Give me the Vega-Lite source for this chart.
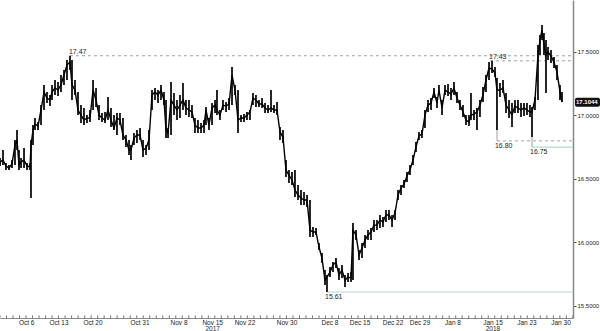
{
"$schema": "https://vega.github.io/schema/vega-lite/v6.json",
"width": 573,
"height": 318,
"autosize": {"type": "none"},
"padding": {"left": 0, "top": 0, "right": 27, "bottom": 13},
"background": "white",
"config": {"view": {"stroke": null}, "font": "Liberation Sans Narrow, Liberation Sans, sans-serif"},
"datasets": {
"px": [
{"t":0,"h":16.665,"l":16.602,"c":16.633},
{"t":0.46,"h":16.728,"l":16.610,"c":16.649},
{"t":0.92,"h":16.626,"l":16.570,"c":16.602},
{"t":1.38,"h":16.610,"l":16.570,"c":16.586},
{"t":1.84,"h":16.649,"l":16.586,"c":16.618},
{"t":2.30,"h":16.807,"l":16.610,"c":16.767},
{"t":2.61,"h":16.885,"l":16.728,"c":16.807},
{"t":2.92,"h":16.728,"l":16.570,"c":16.610},
{"t":3.23,"h":16.665,"l":16.586,"c":16.633},
{"t":3.69,"h":16.744,"l":16.586,"c":16.649},
{"t":4.15,"h":16.626,"l":16.570,"c":16.602},
{"t":4.61,"h":16.626,"l":16.570,"c":16.594},
{"t":4.76,"h":16.807,"l":16.350,"c":16.767},
{"t":5.07,"h":16.925,"l":16.767,"c":16.885},
{"t":5.38,"h":16.980,"l":16.885,"c":16.933},
{"t":5.84,"h":16.948,"l":16.885,"c":16.917},
{"t":6.30,"h":17.082,"l":16.925,"c":17.043},
{"t":6.76,"h":17.240,"l":17.043,"c":17.185},
{"t":7.22,"h":17.185,"l":17.098,"c":17.137},
{"t":7.68,"h":17.161,"l":17.074,"c":17.122},
{"t":7.99,"h":17.240,"l":17.122,"c":17.185},
{"t":8.45,"h":17.279,"l":17.161,"c":17.216},
{"t":8.91,"h":17.263,"l":17.153,"c":17.200},
{"t":9.37,"h":17.318,"l":17.185,"c":17.240},
{"t":9.83,"h":17.358,"l":17.240,"c":17.318},
{"t":10.29,"h":17.437,"l":17.279,"c":17.397},
{"t":10.75,"h":17.470,"l":17.358,"c":17.421},
{"t":11.06,"h":17.437,"l":17.122,"c":17.240},
{"t":11.52,"h":17.279,"l":17.161,"c":17.200},
{"t":11.98,"h":17.185,"l":17.003,"c":17.043},
{"t":12.44,"h":17.082,"l":16.940,"c":17.003},
{"t":12.90,"h":17.059,"l":16.925,"c":16.964},
{"t":13.36,"h":17.003,"l":16.940,"c":16.980},
{"t":13.82,"h":17.043,"l":16.948,"c":16.980},
{"t":14.29,"h":17.279,"l":17.043,"c":17.200},
{"t":14.75,"h":17.216,"l":17.066,"c":17.122},
{"t":15.21,"h":17.082,"l":16.964,"c":17.003},
{"t":15.67,"h":17.019,"l":16.948,"c":16.980},
{"t":16.13,"h":17.027,"l":16.940,"c":16.964},
{"t":16.59,"h":17.145,"l":16.964,"c":17.043},
{"t":17.05,"h":17.059,"l":16.909,"c":16.964},
{"t":17.51,"h":17.003,"l":16.885,"c":16.901},
{"t":17.97,"h":17.019,"l":16.846,"c":16.980},
{"t":18.43,"h":17.019,"l":16.925,"c":16.964},
{"t":18.89,"h":16.980,"l":16.807,"c":16.846},
{"t":19.35,"h":16.846,"l":16.752,"c":16.807},
{"t":19.82,"h":16.807,"l":16.689,"c":16.728},
{"t":20.12,"h":16.767,"l":16.649,"c":16.728},
{"t":20.58,"h":16.862,"l":16.767,"c":16.822},
{"t":21.04,"h":16.885,"l":16.783,"c":16.846},
{"t":21.51,"h":16.901,"l":16.807,"c":16.846},
{"t":21.97,"h":16.807,"l":16.673,"c":16.728},
{"t":22.43,"h":16.767,"l":16.689,"c":16.744},
{"t":22.89,"h":16.885,"l":16.728,"c":16.807},
{"t":23.35,"h":17.200,"l":17.043,"c":17.161},
{"t":23.81,"h":17.216,"l":17.122,"c":17.185},
{"t":24.27,"h":17.200,"l":17.098,"c":17.161},
{"t":24.73,"h":17.240,"l":17.122,"c":17.200},
{"t":25.19,"h":17.185,"l":17.082,"c":17.122},
{"t":25.50,"h":17.122,"l":16.822,"c":16.885},
{"t":25.81,"h":16.901,"l":16.822,"c":16.862},
{"t":26.27,"h":17.263,"l":16.846,"c":17.122},
{"t":26.73,"h":17.177,"l":17.003,"c":17.082},
{"t":27.19,"h":17.122,"l":16.964,"c":17.043},
{"t":27.65,"h":17.161,"l":16.980,"c":17.082},
{"t":28.11,"h":17.255,"l":17.043,"c":17.122},
{"t":28.57,"h":17.122,"l":17.003,"c":17.059},
{"t":29.03,"h":17.122,"l":16.988,"c":17.043},
{"t":29.49,"h":17.082,"l":16.980,"c":17.027},
{"t":29.95,"h":16.980,"l":16.862,"c":16.925},
{"t":30.41,"h":16.964,"l":16.862,"c":16.901},
{"t":30.88,"h":16.940,"l":16.862,"c":16.901},
{"t":31.34,"h":16.964,"l":16.862,"c":16.925},
{"t":31.64,"h":17.066,"l":16.925,"c":17.043},
{"t":32.10,"h":16.980,"l":16.885,"c":16.925},
{"t":32.57,"h":17.098,"l":16.925,"c":17.059},
{"t":33.03,"h":17.122,"l":17.019,"c":17.082},
{"t":33.33,"h":17.200,"l":17.003,"c":17.043},
{"t":33.79,"h":17.043,"l":16.964,"c":17.003},
{"t":34.25,"h":17.122,"l":17.043,"c":17.082},
{"t":34.72,"h":17.106,"l":17.027,"c":17.074},
{"t":35.18,"h":17.137,"l":17.043,"c":17.090},
{"t":35.64,"h":17.381,"l":17.082,"c":17.318},
{"t":36.10,"h":17.240,"l":17.161,"c":17.200},
{"t":36.56,"h":17.200,"l":16.862,"c":16.964},
{"t":37.02,"h":17.003,"l":16.948,"c":16.980},
{"t":37.48,"h":17.011,"l":16.948,"c":16.980},
{"t":37.94,"h":17.027,"l":16.964,"c":17.003},
{"t":38.40,"h":17.043,"l":16.964,"c":17.027},
{"t":38.86,"h":17.177,"l":17.082,"c":17.137},
{"t":39.32,"h":17.161,"l":17.066,"c":17.122},
{"t":39.78,"h":17.122,"l":17.066,"c":17.090},
{"t":40.25,"h":17.137,"l":17.059,"c":17.090},
{"t":40.71,"h":17.098,"l":17.019,"c":17.059},
{"t":41.17,"h":17.082,"l":17.019,"c":17.043},
{"t":41.63,"h":17.200,"l":17.027,"c":17.059},
{"t":42.09,"h":17.082,"l":17.019,"c":17.043},
{"t":42.55,"h":17.106,"l":17.003,"c":17.043},
{"t":43.01,"h":16.909,"l":16.807,"c":16.870},
{"t":43.47,"h":16.885,"l":16.783,"c":16.830},
{"t":43.93,"h":16.649,"l":16.515,"c":16.570},
{"t":44.39,"h":16.570,"l":16.468,"c":16.531},
{"t":44.85,"h":16.555,"l":16.452,"c":16.492},
{"t":45.31,"h":16.570,"l":16.358,"c":16.413},
{"t":45.78,"h":16.452,"l":16.334,"c":16.374},
{"t":46.24,"h":16.413,"l":16.295,"c":16.350},
{"t":46.70,"h":16.397,"l":16.295,"c":16.334},
{"t":47.16,"h":16.374,"l":16.279,"c":16.334},
{"t":47.62,"h":16.334,"l":16.043,"c":16.098},
{"t":48.08,"h":16.122,"l":16.043,"c":16.082},
{"t":48.54,"h":16.114,"l":16.059,"c":16.082},
{"t":49.00,"h":15.996,"l":15.940,"c":15.964},
{"t":49.46,"h":15.917,"l":15.838,"c":15.877},
{"t":49.92,"h":15.783,"l":15.665,"c":15.704},
{"t":50.23,"h":15.744,"l":15.610,"c":15.728},
{"t":50.69,"h":15.807,"l":15.728,"c":15.767},
{"t":51.15,"h":15.846,"l":15.767,"c":15.822},
{"t":51.61,"h":15.877,"l":15.799,"c":15.846},
{"t":52.07,"h":15.799,"l":15.704,"c":15.744},
{"t":52.53,"h":15.822,"l":15.720,"c":15.783},
{"t":53.00,"h":15.744,"l":15.649,"c":15.704},
{"t":53.46,"h":15.759,"l":15.688,"c":15.728},
{"t":53.92,"h":15.767,"l":15.688,"c":15.720},
{"t":54.22,"h":16.153,"l":15.704,"c":16.098},
{"t":54.69,"h":16.098,"l":16.019,"c":16.059},
{"t":55.15,"h":15.940,"l":15.862,"c":15.901},
{"t":55.61,"h":15.996,"l":15.877,"c":15.956},
{"t":56.07,"h":16.059,"l":15.956,"c":16.019},
{"t":56.53,"h":16.098,"l":16.019,"c":16.059},
{"t":56.99,"h":16.114,"l":16.019,"c":16.082},
{"t":57.45,"h":16.177,"l":16.082,"c":16.137},
{"t":57.91,"h":16.177,"l":16.098,"c":16.137},
{"t":58.37,"h":16.216,"l":16.114,"c":16.177},
{"t":58.83,"h":16.200,"l":16.122,"c":16.161},
{"t":59.29,"h":16.255,"l":16.161,"c":16.216},
{"t":59.75,"h":16.255,"l":16.177,"c":16.216},
{"t":60.22,"h":16.216,"l":16.122,"c":16.177},
{"t":60.68,"h":16.255,"l":16.177,"c":16.232},
{"t":61.14,"h":16.413,"l":16.334,"c":16.374},
{"t":61.60,"h":16.452,"l":16.374,"c":16.429},
{"t":62.06,"h":16.492,"l":16.429,"c":16.460},
{"t":62.52,"h":16.555,"l":16.476,"c":16.523},
{"t":62.98,"h":16.610,"l":16.531,"c":16.570},
{"t":63.44,"h":16.689,"l":16.610,"c":16.649},
{"t":63.90,"h":16.791,"l":16.712,"c":16.752},
{"t":64.36,"h":16.870,"l":16.807,"c":16.838},
{"t":64.82,"h":16.885,"l":16.822,"c":16.854},
{"t":65.28,"h":17.043,"l":16.901,"c":17.003},
{"t":65.75,"h":17.122,"l":17.027,"c":17.082},
{"t":66.21,"h":17.137,"l":17.043,"c":17.098},
{"t":66.67,"h":17.216,"l":17.137,"c":17.185},
{"t":67.13,"h":17.145,"l":17.059,"c":17.098},
{"t":67.43,"h":17.240,"l":17.161,"c":17.200},
{"t":67.90,"h":17.122,"l":17.003,"c":17.059},
{"t":68.36,"h":17.240,"l":17.161,"c":17.200},
{"t":68.82,"h":17.248,"l":17.153,"c":17.185},
{"t":69.28,"h":17.216,"l":17.122,"c":17.169},
{"t":69.74,"h":17.263,"l":17.161,"c":17.216},
{"t":70.20,"h":17.185,"l":17.098,"c":17.137},
{"t":70.66,"h":17.122,"l":17.043,"c":17.082},
{"t":71.12,"h":17.082,"l":16.988,"c":17.027},
{"t":71.58,"h":17.003,"l":16.925,"c":16.964},
{"t":72.04,"h":17.003,"l":16.917,"c":16.948},
{"t":72.35,"h":17.177,"l":16.964,"c":17.003},
{"t":72.81,"h":17.043,"l":16.964,"c":17.011},
{"t":73.27,"h":17.059,"l":16.885,"c":17.027},
{"t":73.73,"h":17.122,"l":16.988,"c":17.082},
{"t":74.19,"h":17.224,"l":17.106,"c":17.161},
{"t":74.65,"h":17.318,"l":17.185,"c":17.279},
{"t":75.12,"h":17.421,"l":17.279,"c":17.374},
{"t":75.58,"h":17.430,"l":17.334,"c":17.366},
{"t":76.04,"h":17.381,"l":17.303,"c":17.334},
{"t":76.34,"h":17.295,"l":16.885,"c":17.200},
{"t":76.80,"h":17.255,"l":17.145,"c":17.200},
{"t":77.27,"h":17.279,"l":17.177,"c":17.216},
{"t":77.73,"h":17.177,"l":17.019,"c":17.082},
{"t":78.19,"h":17.122,"l":16.980,"c":17.043},
{"t":78.65,"h":17.098,"l":16.909,"c":17.003},
{"t":79.11,"h":17.122,"l":17.019,"c":17.074},
{"t":79.57,"h":17.122,"l":17.019,"c":17.059},
{"t":80.03,"h":17.098,"l":16.988,"c":17.043},
{"t":80.49,"h":17.098,"l":16.996,"c":17.059},
{"t":80.95,"h":17.098,"l":17.003,"c":17.043},
{"t":81.41,"h":17.082,"l":16.988,"c":17.027},
{"t":81.72,"h":17.066,"l":16.830,"c":17.027},
{"t":82.18,"h":17.145,"l":17.043,"c":17.122},
{"t":82.64,"h":17.555,"l":17.122,"c":17.476},
{"t":82.95,"h":17.633,"l":17.476,"c":17.594},
{"t":83.26,"h":17.712,"l":17.594,"c":17.673},
{"t":83.56,"h":17.649,"l":17.476,"c":17.555},
{"t":83.87,"h":17.594,"l":17.177,"c":17.476},
{"t":84.18,"h":17.539,"l":17.437,"c":17.500},
{"t":84.64,"h":17.515,"l":17.413,"c":17.468},
{"t":85.10,"h":17.460,"l":17.374,"c":17.421},
{"t":85.56,"h":17.397,"l":17.279,"c":17.342},
{"t":86.02,"h":17.240,"l":17.122,"c":17.185},
{"t":86.33,"h":17.185,"l":17.106,"c":17.1044}
],
"lev": [
{"t":10.75,"t2":88.02,"p":17.47,"kind":"dash","label":"17.47","side":"above"},
{"t":75.27,"t2":88.02,"p":17.43,"kind":"dash","label":"17.43","side":"above"},
{"t":76.34,"t2":88.02,"p":16.80,"kind":"dash","label":"16.80","side":"below"},
{"t":81.72,"t2":88.02,"p":16.75,"kind":"solid","label":"16.75","side":"below"},
{"t":50.23,"t2":88.02,"p":15.61,"kind":"solid","label":"15.61","side":"below"}
],
"lead": [
{"t":76.34,"p1":16.885,"p2":16.80},
{"t":81.72,"p1":16.830,"p2":16.75}
],
"days": [
{"t":0},{"t":1},{"t":2},{"t":3},{"t":4},{"t":5},{"t":6},{"t":7},{"t":8},{"t":9},{"t":10},{"t":11},{"t":12},{"t":13},{"t":14},{"t":15},{"t":16},{"t":17},{"t":18},{"t":19},{"t":20},{"t":21},{"t":22},{"t":23},{"t":24},{"t":25},{"t":26},{"t":27},{"t":28},{"t":29},{"t":30},{"t":31},{"t":32},{"t":33},{"t":34},{"t":35},{"t":36},{"t":37},{"t":38},{"t":39},{"t":40},{"t":41},{"t":42},{"t":43},{"t":44},{"t":45},{"t":46},{"t":47},{"t":48},{"t":49},{"t":50},{"t":51},{"t":52},{"t":53},{"t":54},{"t":55},{"t":56},{"t":57},{"t":58},{"t":59},{"t":60},{"t":61},{"t":62},{"t":63},{"t":64},{"t":65},{"t":66},{"t":67},{"t":68},{"t":69},{"t":70},{"t":71},{"t":72},{"t":73},{"t":74},{"t":75},{"t":76},{"t":77},{"t":78},{"t":79},{"t":80},{"t":81},{"t":82},{"t":83},{"t":84},{"t":85},{"t":86},{"t":87},{"t":88}
],
"xl": [
{"t":4.1,"label":"Oct 6","year":""},
{"t":9.06,"label":"Oct 13","year":""},
{"t":14.29,"label":"Oct 20","year":""},
{"t":21.51,"label":"Oct 31","year":""},
{"t":27.5,"label":"Nov 8","year":""},
{"t":32.67,"label":"Nov 15","year":"2017"},
{"t":37.63,"label":"Nov 22","year":""},
{"t":44.09,"label":"Nov 30","year":""},
{"t":50.69,"label":"Dec 8","year":""},
{"t":55.3,"label":"Dec 15","year":""},
{"t":60.37,"label":"Dec 22","year":""},
{"t":64.52,"label":"Dec 29","year":""},
{"t":69.59,"label":"Jan 8","year":""},
{"t":75.73,"label":"Jan 15","year":"2018"},
{"t":80.95,"label":"Jan 23","year":""},
{"t":86.18,"label":"Jan 30","year":""}
],
"last": [
{"t":88.02,"p":17.1044,"label":"17.1044"}
]
},
"layer": [
{
"data": {"name": "lev"},
"transform": [{"filter": "datum.kind == 'dash'"}],
"mark": {"type": "rule", "color": "#9aa5a5", "strokeWidth": 1, "strokeDash": [3, 3]},
"encoding": {
"x": {"field": "t", "type": "quantitative", "scale": {"domain": [0, 88.02], "nice": false, "zero": false},
"axis": {"labels": false, "ticks": false, "title": null, "grid": false, "domainColor": "#888", "domainWidth": 1}},
"x2": {"field": "t2"},
"y": {"field": "p", "type": "quantitative", "scale": {"domain": [15.4055, 17.909], "nice": false, "zero": false},
"axis": {"orient": "right", "values": [15.5, 16, 16.5, 17, 17.5], "format": ".4f", "title": null, "grid": false,
"labelFontSize": 6, "labelColor": "#222", "labelPadding": 1, "tickSize": 3, "tickColor": "#555", "domainColor": "#888", "domainWidth": 1.5}}
}
},
{
"data": {"name": "days"},
"mark": {"type": "rule", "color": "#777", "strokeWidth": 1},
"encoding": {
"x": {"field": "t", "type": "quantitative"},
"y": {"datum": 15.4055},
"y2": {"datum": 15.426}
}
},
{
"data": {"name": "xl"},
"mark": {"type": "text", "align": "center", "baseline": "top", "dy": 2, "fontSize": 6.5, "color": "#222"},
"encoding": {
"x": {"field": "t", "type": "quantitative"},
"y": {"datum": 15.4055},
"text": {"field": "label"}
}
},
{
"data": {"name": "xl"},
"mark": {"type": "text", "align": "center", "baseline": "top", "dy": 8, "fontSize": 6.5, "color": "#222"},
"encoding": {
"x": {"field": "t", "type": "quantitative"},
"y": {"datum": 15.4055},
"text": {"field": "year"}
}
},
{
"data": {"name": "lev"},
"transform": [{"filter": "datum.kind == 'solid'"}],
"mark": {"type": "rule", "color": "#b3d9cf", "strokeWidth": 1.2},
"encoding": {
"x": {"field": "t", "type": "quantitative"},
"x2": {"field": "t2"},
"y": {"field": "p", "type": "quantitative"}
}
},
{
"data": {"name": "lead"},
"mark": {"type": "rule", "color": "#a0a0a0", "strokeWidth": 1},
"encoding": {
"x": {"field": "t", "type": "quantitative"},
"y": {"field": "p1", "type": "quantitative"},
"y2": {"field": "p2"}
}
},
{
"data": {"name": "px"},
"mark": {"type": "rule", "color": "#000", "strokeWidth": 1.7},
"encoding": {
"x": {"field": "t", "type": "quantitative"},
"y": {"field": "l", "type": "quantitative"},
"y2": {"field": "h"}
}
},
{
"data": {"name": "px"},
"mark": {"type": "line", "color": "#000", "strokeWidth": 1.4},
"encoding": {
"x": {"field": "t", "type": "quantitative"},
"y": {"field": "c", "type": "quantitative"}
}
},
{
"data": {"name": "lev"},
"transform": [{"filter": "datum.side == 'above'"}],
"mark": {"type": "text", "align": "left", "baseline": "bottom", "dy": -1, "dx": -1, "fontSize": 7, "color": "#222"},
"encoding": {
"x": {"field": "t", "type": "quantitative"},
"y": {"field": "p", "type": "quantitative"},
"text": {"field": "label"}
}
},
{
"data": {"name": "lev"},
"transform": [{"filter": "datum.side == 'below'"}],
"mark": {"type": "text", "align": "left", "baseline": "top", "dy": 1, "dx": -2, "fontSize": 7, "color": "#222"},
"encoding": {
"x": {"field": "t", "type": "quantitative"},
"y": {"field": "p", "type": "quantitative"},
"text": {"field": "label"}
}
},
{
"data": {"name": "last"},
"mark": {"type": "rect", "color": "#111", "cornerRadius": 2, "xOffset": 2, "x2Offset": 27, "yOffset": -4.5, "y2Offset": 4.5},
"encoding": {
"x": {"field": "t", "type": "quantitative"},
"x2": {"field": "t"},
"y": {"field": "p", "type": "quantitative"},
"y2": {"field": "p"}
}
},
{
"data": {"name": "last"},
"mark": {"type": "text", "align": "left", "baseline": "middle", "dx": 3, "fontSize": 6, "fontWeight": "bold", "color": "#fff"},
"encoding": {
"x": {"field": "t", "type": "quantitative"},
"y": {"field": "p", "type": "quantitative"},
"text": {"field": "label"}
}
}
]
}
